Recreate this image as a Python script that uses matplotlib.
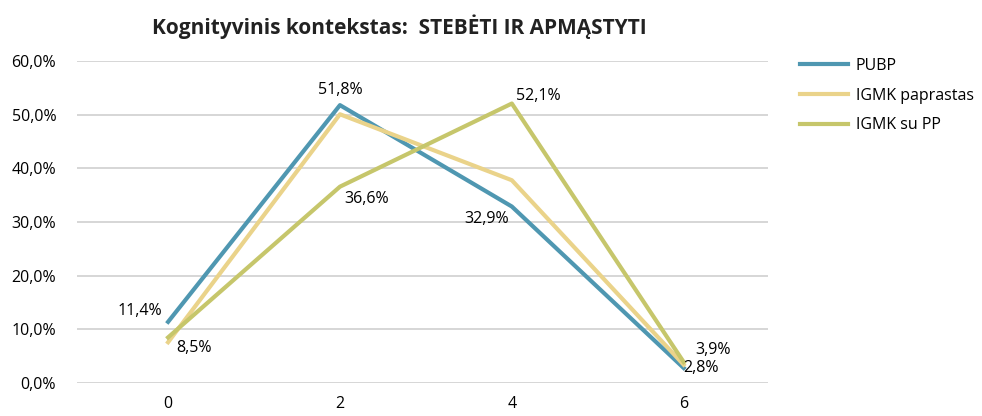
import matplotlib
matplotlib.use("Agg")
import matplotlib.pyplot as plt

plt.rcParams['font.family'] = ['Open Sans', 'DejaVu Sans']

categories = [0, 2, 4, 6]
pubp = [11.4, 51.8, 32.9, 2.8]
igmk_paprastas = [7.6, 50.1, 37.8, 3.4]
igmk_su_pp = [8.5, 36.6, 52.1, 3.9]
yticks = [0, 10, 20, 30, 40, 50, 60]

fig = plt.figure(figsize=(9.82, 4.16), dpi=100)
ax = fig.add_axes([0.0784, 0.0793, 0.7036, 0.7737])

ax.plot(categories, pubp, color='#4f97b1', lw=3.0, label='PUBP', zorder=3)
ax.plot(categories, igmk_paprastas, color='#ead38a', lw=3.0, label='IGMK paprastas', zorder=3)
ax.plot(categories, igmk_su_pp, color='#c6c66b', lw=3.0, label='IGMK su PP', zorder=3)

def pct(v):
    return f"{v:.1f}%".replace('.', ',')

fs = 11.5
# PUBP labels
ax.annotate(pct(pubp[0]), (0, pubp[0]), xytext=(-4, 2), textcoords='offset points', ha='right', va='bottom', fontsize=fs)
ax.annotate(pct(pubp[1]), (2, pubp[1]), xytext=(0, 5), textcoords='offset points', ha='center', va='bottom', fontsize=fs)
ax.annotate(pct(pubp[2]), (4, pubp[2]), xytext=(-2, -3), textcoords='offset points', ha='right', va='top', fontsize=fs)
ax.annotate(pct(pubp[3]), (6, pubp[3]), xytext=(0, 0), textcoords='offset points', ha='left', va='center', fontsize=fs)
# IGMK su PP labels
ax.annotate(pct(igmk_su_pp[0]), (0, igmk_su_pp[0]), xytext=(6, -2), textcoords='offset points', ha='left', va='top', fontsize=fs)
ax.annotate(pct(igmk_su_pp[1]), (2, igmk_su_pp[1]), xytext=(3, -3), textcoords='offset points', ha='left', va='top', fontsize=fs)
ax.annotate(pct(igmk_su_pp[2]), (4, igmk_su_pp[2]), xytext=(3, 0), textcoords='offset points', ha='left', va='bottom', fontsize=fs)
ax.annotate(pct(igmk_su_pp[3]), (6, igmk_su_pp[3]), xytext=(8, 3), textcoords='offset points', ha='left', va='bottom', fontsize=fs)

ax.set_xlim(-1.06, 6.98)
ax.set_ylim(0, 60)
ax.set_xticks(categories)
ax.set_xticklabels([str(c) for c in categories], fontsize=11.5)
ax.set_yticks(yticks)
ax.set_yticklabels([pct(v) for v in yticks], fontsize=11.5)
ax.tick_params(length=0)
ax.tick_params(axis='x', pad=9)
ax.tick_params(axis='y', pad=15)
ax.yaxis.grid(True, color='#d0d0d0', lw=1.2)
ax.set_axisbelow(True)
for s in ax.spines.values():
    s.set_visible(False)

fig.text(0.407, 0.935, 'Kognityvinis kontekstas:  STEBĖTI IR APMĄSTYTI',
         ha='center', va='center', fontsize=15, fontweight='bold', color='#222222')

fig.legend(loc='upper left', bbox_to_anchor=(0.8, 0.895), frameon=False,
           fontsize=11.5, handlelength=3.0, handletextpad=0.5, labelspacing=0.85)

fig.savefig('out.png', dpi=100)
